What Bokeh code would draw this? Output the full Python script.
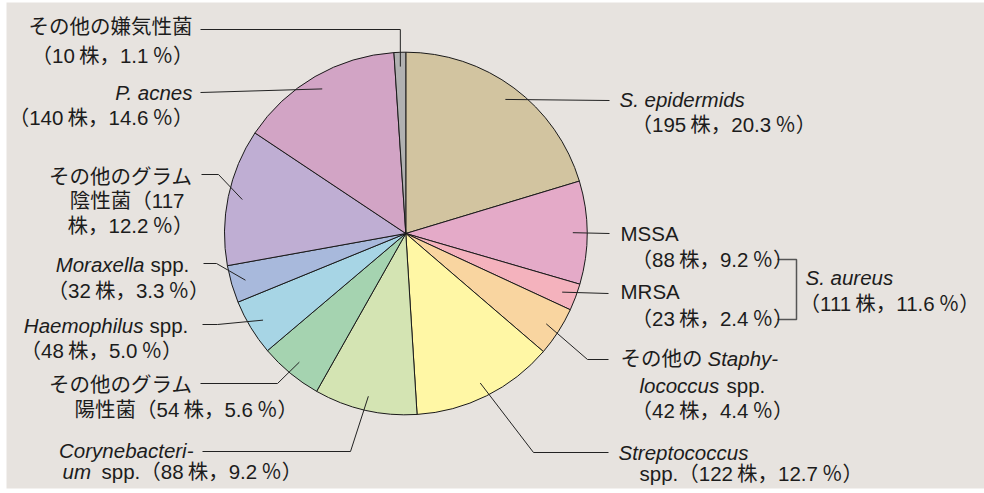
import math

from bokeh.core.properties import value
from bokeh.embed import file_html
from bokeh.models import Range1d
from bokeh.plotting import figure
from bokeh.resources import INLINE

# ---- data -----------------------------------------------------------------
categories = [
    "S. epidermids", "MSSA", "MRSA", "その他の Staphylococcus spp.",
    "Streptococcus spp.", "Corynebacterium spp.", "その他のグラム陽性菌",
    "Haemophilus spp.", "Moraxella spp.", "その他のグラム陰性菌",
    "P. acnes", "その他の嫌気性菌",
]
counts = [195, 88, 23, 42, 122, 88, 54, 48, 32, 117, 140, 10]
percents = [20.3, 9.2, 2.4, 4.4, 12.7, 9.2, 5.6, 5.0, 3.3, 12.2, 14.6, 1.1]
colors = [
    "#D2C4A0", "#E4AAC8", "#F4B2BD", "#F9D5A0", "#FFF7A5", "#D4E4B3",
    "#A5D3B0", "#A7D5E5", "#A8B9DC", "#BFAED3", "#D2A4C5", "#B1B1B1",
]
aureus_count = 111
aureus_percent = 11.6

# ---- layout ---------------------------------------------------------------
W, H = 984, 493
CX, CY, R = 405.3, 233.0, 181.3     # pie centre / radius in page pixels
LEAD_R = 167.0                        # where leader lines start inside a slice
FONT = value("Liberation Sans, Noto Sans CJK JP")
FS = "20.5px"
INK = "#1c1c1c"


def Y(y):
    """page pixel row (top-down) -> data y (bottom-up)"""
    return H - y


def cnt(n, pct):
    return f"（{n}\u2009株，{pct:.1f}\u2009％）"


p = figure(width=W, height=H, x_range=Range1d(0, W), y_range=Range1d(0, H),
           output_backend="svg", toolbar_location=None, min_border=0)
p.axis.visible = False
p.grid.visible = False
p.outline_line_color = None
p.background_fill_color = "white"
p.border_fill_color = "white"

# panel
p.quad(left=6, right=W, bottom=Y(488), top=Y(2), fill_color="#E7E3DF", line_color=None)

# ---- pie ------------------------------------------------------------------
total = sum(counts)
cum = [0]
for c in counts:
    cum.append(cum[-1] + c)
clock = [2 * math.pi * v / total for v in cum]          # clockwise from 12 o'clock
starts = [math.pi / 2 - clock[i + 1] for i in range(len(counts))]
ends = [math.pi / 2 - clock[i] for i in range(len(counts))]
p.wedge(x=[CX] * len(counts), y=[Y(CY)] * len(counts), radius=R,
        start_angle=starts, end_angle=ends, direction="anticlock",
        fill_color=colors, line_color="#1a1a1a", line_width=1)


def inner(i):
    a = (clock[i] + clock[i + 1]) / 2
    return CX + LEAD_R * math.sin(a), CY - LEAD_R * math.cos(a)


# leader lines: slice index -> extra path points (page pixels)
leaders = {
    0: [(609, 100)],
    1: [(609, 233)],
    2: [(608, 293)],
    3: [(587, 359), (608, 359)],
    4: [(533, 452), (608, 452)],
    5: [(350, 451), (202, 451)],
    6: [(277, 383), (200, 383)],
    7: [(217, 324), (202, 324)],
    8: [(216, 263), (203, 263)],
    9: [(218, 174), (201, 174)],
    10: [(200, 92)],
}
xs, ys = [], []
for i, pts in leaders.items():
    x0, y0 = inner(i)
    path = [(x0, y0)] + pts
    xs.append([q[0] for q in path])
    ys.append([Y(q[1]) for q in path])
# the thin anaerobe slice: straight up, then left
x0, y0 = inner(11)
xs.append([x0, x0, 200])
ys.append([Y(y0), Y(29), Y(29)])
p.multi_line(xs=xs, ys=ys, line_color="#222222", line_width=1)

# S. aureus bracket
p.line(x=[777, 796, 796, 777], y=[Y(259), Y(259), Y(319), Y(319)],
       line_color="#555555", line_width=1.5)

# ---- labels -----------------------------------------------------------------
segments = [
    # left column
    ("その他の嫌気性菌", 192, 26, "right", "normal"),
    (cnt(counts[11], percents[11]), 193, 55, "right", "normal"),
    ("P. acnes", 192, 92, "right", "italic"),
    (cnt(counts[10], percents[10]), 193, 117, "right", "normal"),
    ("その他のグラム", 192, 176, "right", "normal"),
    (f"陰性菌（{counts[9]}", 184, 200, "right", "normal"),
    (f"株，{percents[9]:.1f}\u2009％）", 193, 225, "right", "normal"),
    ("Moraxella", 144, 264, "right", "italic"),
    ("spp.", 150, 264, "left", "normal"),
    (cnt(counts[8], percents[8]), 209, 290, "right", "normal"),
    ("Haemophilus", 143, 325, "right", "italic"),
    ("spp.", 149, 325, "left", "normal"),
    (cnt(counts[7], percents[7]), 182, 350, "right", "normal"),
    ("その他のグラム", 192, 384, "right", "normal"),
    (f"陽性菌（{counts[6]}\u2009株，{percents[6]:.1f}\u2009％）", 74, 409, "left", "normal"),
    ("Corynebacteri-", 193, 450, "right", "italic"),
    ("um", 62, 471, "left", "italic"),
    (f"spp.{cnt(counts[5], percents[5])}", 101, 471, "left", "normal"),
    # right column
    ("S. epidermids", 619, 99, "left", "italic"),
    (cnt(counts[0], percents[0]), 631, 124, "left", "normal"),
    ("MSSA", 620, 233, "left", "normal"),
    (cnt(counts[1], percents[1]), 631, 259, "left", "normal"),
    ("MRSA", 620, 291, "left", "normal"),
    (cnt(counts[2], percents[2]), 631, 318, "left", "normal"),
    ("その他の", 620, 358, "left", "normal"),
    ("Staphy-", 707, 358, "left", "italic"),
    ("lococcus", 639, 385, "left", "italic"),
    ("spp.", 726, 385, "left", "normal"),
    (cnt(counts[3], percents[3]), 631, 410, "left", "normal"),
    ("Streptococcus", 618, 452, "left", "italic"),
    (f"spp.{cnt(counts[4], percents[4])}", 639, 473, "left", "normal"),
    ("S. aureus", 805, 277, "left", "italic"),
    (cnt(aureus_count, aureus_percent), 799, 303, "left", "normal"),
]
for text, x, y, align, style in segments:
    p.text(x=[x], y=[Y(y)], text=[text], text_align=align, text_baseline="middle",
           text_font=FONT, text_font_size=FS, text_font_style=style, text_color=INK)

open("out.html", "w").write(file_html(p, INLINE))
